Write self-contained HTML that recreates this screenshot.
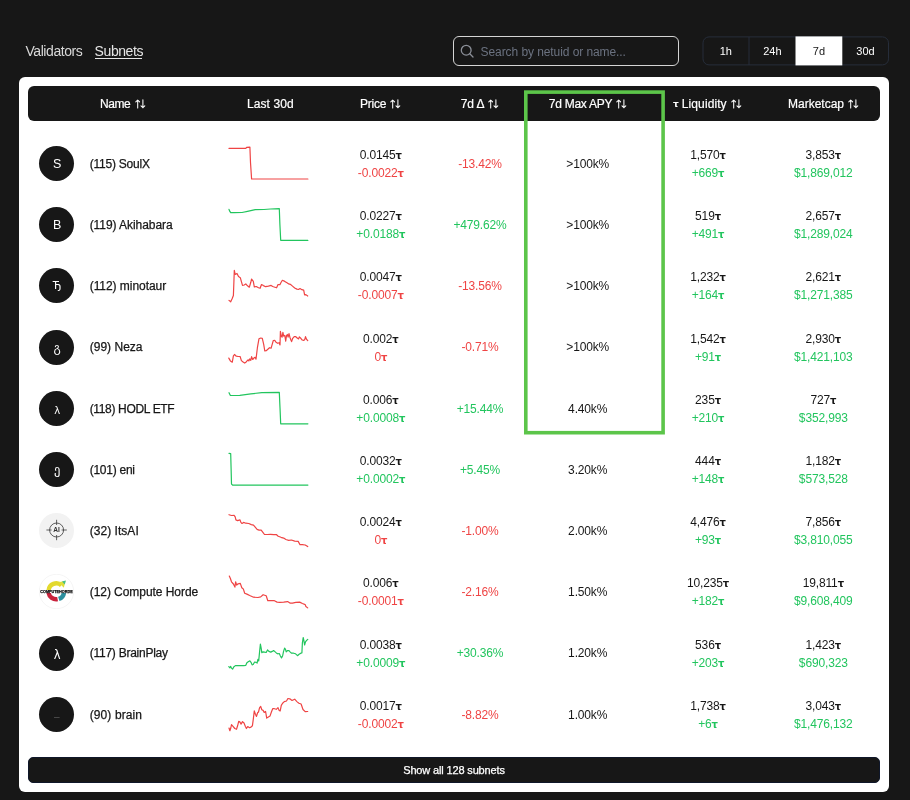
<!DOCTYPE html><html lang="en"><head><meta charset="utf-8"><title>Subnets</title><style>

html,body{margin:0;padding:0}
body{width:910px;height:800px;background:#171717;position:relative;overflow:hidden;font-family:"Liberation Sans","DejaVu Sans",sans-serif;color:#171717}
.a{position:absolute;white-space:nowrap}
.c{position:absolute;white-space:nowrap;text-align:center;width:160px;font-size:12px;line-height:16px;letter-spacing:-0.15px}
.nav{font-size:14px;line-height:18px;color:#e5e5e5;letter-spacing:-0.42px}
.card{left:19px;top:77px;width:870px;height:715px;background:#fff;border-radius:6px}
.hdr{left:28px;top:86px;width:852px;height:35px;background:#171717;border-radius:6px}
.h{position:absolute;white-space:nowrap;font-size:12px;line-height:16px;color:#fff;top:95.5px;-webkit-text-stroke:0.2px #fff}
.si{position:absolute}
.av{position:absolute;width:35px;height:35px;border-radius:50%;background:#171717;color:#fff;font-size:12px;line-height:35px;text-align:center;left:39px}
.nm{position:absolute;white-space:nowrap;left:89.7px;font-size:12px;line-height:16px;-webkit-text-stroke:0.25px #171717}
.r{color:#ef4444}.g{color:#22c55e}
.t{font-family:"DejaVu Sans","Liberation Sans",sans-serif;font-weight:bold;font-size:10px}
.more{left:28px;top:757px;width:850px;height:24px;background:#171717;border:1px solid #0f172a;border-radius:5px;color:#fff;font-size:11px;line-height:24px;text-align:center;letter-spacing:-0.15px;-webkit-text-stroke:0.25px #fff}
.search{left:453px;top:36px;width:224px;height:28px;border:1px solid #d4d4d4;border-radius:6px}
.ph{left:480.6px;top:43.5px;font-size:12px;line-height:16px;color:#6b7280;letter-spacing:-0.08px}
.tabs{left:703px;top:36px;width:184px;height:28px;border:1px solid #2a3342;border-radius:6px;overflow:hidden}
.tab{position:absolute;height:28px;width:46.5px;text-align:center;font-size:11px;line-height:28px;color:#fff}

</style></head><body>
<div class="a nav" style="left:25.4px;top:41.5px;color:#d9d9d9">Validators</div>
<div class="a nav" style="left:94.6px;top:41.5px">Subnets</div>
<div class="a" style="left:94.6px;top:58px;width:47.6px;height:1px;background:#e5e5e5"></div>
<div class="a search"></div>
<svg class="si" style="left:459px;top:43px" width="16" height="16" viewBox="0 0 16 16"><circle cx="7.2" cy="7.2" r="4.9" fill="none" stroke="#8b8f98" stroke-width="1.3"/><path d="M10.8 10.8L14 14" stroke="#8b8f98" stroke-width="1.3" stroke-linecap="round"/></svg>
<div class="a ph">Search by netuid or name...</div>
<svg class="si" style="left:0;top:0" width="910" height="100" viewBox="0 0 910 100"><rect x="703" y="36.9" width="185.5" height="28" rx="6" fill="none" stroke="#262d3a" stroke-width="1"/><path d="M749 37V65" stroke="#262d3a" stroke-width="1"/><rect x="795.5" y="36.4" width="46.8" height="29" fill="#fff"/></svg>
<div class="tab" style="left:702.5px;top:37px;">1h</div>
<div class="tab" style="left:749.1px;top:37px;">24h</div>
<div class="tab" style="left:795.7px;top:37px;color:#171717;">7d</div>
<div class="tab" style="left:842.3px;top:37px;">30d</div>
<div class="a card"></div><div class="a hdr"></div>
<div class="h" style="left:100px;letter-spacing:-0.48px">Name</div>
<svg class="si" style="left:134.5px;top:99px" width="11" height="10" viewBox="0 0 11 10"><path d="M2.7 8.9V1M0.8 2.9L2.7 1L4.6 2.9M7.9 0.8V8.7M6 6.8L7.9 8.7L9.8 6.8" fill="none" stroke="#fff" stroke-width="1.05" stroke-linecap="round" stroke-linejoin="round"/></svg>
<div class="h" style="left:247px;letter-spacing:0.08px">Last 30d</div>
<div class="h" style="left:360px;letter-spacing:-0.22px">Price</div>
<svg class="si" style="left:390.4px;top:99px" width="11" height="10" viewBox="0 0 11 10"><path d="M2.7 8.9V1M0.8 2.9L2.7 1L4.6 2.9M7.9 0.8V8.7M6 6.8L7.9 8.7L9.8 6.8" fill="none" stroke="#fff" stroke-width="1.05" stroke-linecap="round" stroke-linejoin="round"/></svg>
<div class="h" style="left:460.8px;letter-spacing:-0.3px">7d Δ</div>
<svg class="si" style="left:488px;top:99px" width="11" height="10" viewBox="0 0 11 10"><path d="M2.7 8.9V1M0.8 2.9L2.7 1L4.6 2.9M7.9 0.8V8.7M6 6.8L7.9 8.7L9.8 6.8" fill="none" stroke="#fff" stroke-width="1.05" stroke-linecap="round" stroke-linejoin="round"/></svg>
<div class="h" style="left:548.8px;letter-spacing:-0.27px">7d Max APY</div>
<svg class="si" style="left:616.4px;top:99px" width="11" height="10" viewBox="0 0 11 10"><path d="M2.7 8.9V1M0.8 2.9L2.7 1L4.6 2.9M7.9 0.8V8.7M6 6.8L7.9 8.7L9.8 6.8" fill="none" stroke="#fff" stroke-width="1.05" stroke-linecap="round" stroke-linejoin="round"/></svg>
<div class="h" style="left:681.8px;letter-spacing:0.1px"><span class="t" style="font-size:9px;position:absolute;left:-8.8px;top:0.5px;-webkit-text-stroke:0">τ</span>Liquidity</div>
<svg class="si" style="left:731.3px;top:99px" width="11" height="10" viewBox="0 0 11 10"><path d="M2.7 8.9V1M0.8 2.9L2.7 1L4.6 2.9M7.9 0.8V8.7M6 6.8L7.9 8.7L9.8 6.8" fill="none" stroke="#fff" stroke-width="1.05" stroke-linecap="round" stroke-linejoin="round"/></svg>
<div class="h" style="left:788px;letter-spacing:0px">Marketcap</div>
<svg class="si" style="left:847.6px;top:99px" width="11" height="10" viewBox="0 0 11 10"><path d="M2.7 8.9V1M0.8 2.9L2.7 1L4.6 2.9M7.9 0.8V8.7M6 6.8L7.9 8.7L9.8 6.8" fill="none" stroke="#fff" stroke-width="1.05" stroke-linecap="round" stroke-linejoin="round"/></svg>
<div class="av" style="top:145.90px"></div><div class="av" style="background:none;left:39.6px;top:146.90px;font-size:12.5px;">S</div>
<div class="nm" style="top:155.80px;letter-spacing:-0.22px">(115) SoulX</div>
<svg class="si" style="left:0;top:0" width="910" height="800" viewBox="0 0 910 800"><polyline points="229.0,148.4 245.8,148.4 246.6,147.3 249.9,147.1 250.5,162.5 251.6,179.0 307.9,179.0" fill="none" stroke="#ef4444" stroke-width="1.2" stroke-linejoin="round" stroke-linecap="round"/></svg>
<div class="c" style="left:300.8px;top:146.90px">0.0145<span class="t">τ</span></div>
<div class="c r" style="left:300.8px;top:164.90px">-0.0022<span class="t">τ</span></div>
<div class="c r" style="left:400px;top:155.80px">-13.42%</div>
<div class="c" style="left:507.70000000000005px;top:155.80px">>100k%</div>
<div class="c" style="left:628px;top:146.90px">1,570<span class="t">τ</span></div>
<div class="c g" style="left:628px;top:164.90px">+669<span class="t">τ</span></div>
<div class="c" style="left:743.3px;top:146.90px">3,853<span class="t">τ</span></div>
<div class="c g" style="left:743.3px;top:164.90px">$1,869,012</div>
<div class="av" style="top:207.10px"></div><div class="av" style="background:none;left:39.6px;top:208.10px;font-size:12.5px;">B</div>
<div class="nm" style="top:217.00px;letter-spacing:-0.06px">(119) Akihabara</div>
<svg class="si" style="left:0;top:0" width="910" height="800" viewBox="0 0 910 800"><polyline points="229.0,209.4 229.7,211.2 230.7,212.7 234.3,212.7 242.0,212.5 247.5,211.4 255.2,209.7 264.0,209.5 270.5,209.0 279.3,208.6 279.9,224.6 280.7,240.3 307.9,240.3" fill="none" stroke="#22c55e" stroke-width="1.2" stroke-linejoin="round" stroke-linecap="round"/></svg>
<div class="c" style="left:300.8px;top:208.10px">0.0227<span class="t">τ</span></div>
<div class="c g" style="left:300.8px;top:226.10px">+0.0188<span class="t">τ</span></div>
<div class="c g" style="left:400px;top:217.00px">+479.62%</div>
<div class="c" style="left:507.70000000000005px;top:217.00px">>100k%</div>
<div class="c" style="left:628px;top:208.10px">519<span class="t">τ</span></div>
<div class="c g" style="left:628px;top:226.10px">+491<span class="t">τ</span></div>
<div class="c" style="left:743.3px;top:208.10px">2,657<span class="t">τ</span></div>
<div class="c g" style="left:743.3px;top:226.10px">$1,289,024</div>
<div class="av" style="top:268.30px"></div><div class="av" style="background:none;left:39.6px;top:268.30px;font-family:&quot;DejaVu Sans&quot;,sans-serif;font-size:11px;">Ђ</div>
<div class="nm" style="top:278.20px;letter-spacing:-0.05px">(112) minotaur</div>
<svg class="si" style="left:0;top:0" width="910" height="800" viewBox="0 0 910 800"><polyline points="229.0,300.4 230.7,301.8 232.1,298.8 233.4,295.5 234.0,279.0 234.3,270.4 235.2,274.4 237.0,273.5 238.5,276.6 240.3,277.7 241.4,281.7 242.5,285.4 244.2,285.0 245.8,283.9 247.5,285.8 249.3,287.2 250.8,282.3 251.6,279.0 253.3,281.4 254.3,286.9 256.3,286.5 258.5,287.8 260.1,288.3 261.5,284.5 263.4,285.6 265.6,286.7 268.4,286.1 271.1,285.4 272.7,286.5 274.9,287.2 276.6,287.8 278.0,284.5 279.9,284.7 281.0,282.5 282.4,280.3 284.8,281.4 287.0,282.8 288.7,283.9 290.3,284.3 292.5,286.1 294.7,288.0 296.9,289.1 298.6,289.4 300.0,288.6 301.9,289.7 303.7,290.2 304.6,294.9 305.9,294.6 307.7,296.0" fill="none" stroke="#ef4444" stroke-width="1.2" stroke-linejoin="round" stroke-linecap="round"/></svg>
<div class="c" style="left:300.8px;top:269.30px">0.0047<span class="t">τ</span></div>
<div class="c r" style="left:300.8px;top:287.30px">-0.0007<span class="t">τ</span></div>
<div class="c r" style="left:400px;top:278.20px">-13.56%</div>
<div class="c" style="left:507.70000000000005px;top:278.20px">>100k%</div>
<div class="c" style="left:628px;top:269.30px">1,232<span class="t">τ</span></div>
<div class="c g" style="left:628px;top:287.30px">+164<span class="t">τ</span></div>
<div class="c" style="left:743.3px;top:269.30px">2,621<span class="t">τ</span></div>
<div class="c g" style="left:743.3px;top:287.30px">$1,271,385</div>
<div class="av" style="top:329.50px"></div><div class="av" style="background:none;left:39.6px;top:329.80px;font-family:&quot;DejaVu Sans&quot;,sans-serif;font-size:12.5px;">გ</div>
<div class="nm" style="top:339.40px;letter-spacing:0.02px">(99) Neza</div>
<svg class="si" style="left:0;top:0" width="910" height="800" viewBox="0 0 910 800"><polyline points="228.8,358.1 230.4,360.9 232.3,362.2 233.4,355.9 234.5,354.5 236.3,356.2 238.1,356.5 240.1,356.5 241.4,360.6 243.1,362.0 244.7,363.1 246.4,361.7 248.0,359.8 248.8,360.9 249.7,358.9 250.8,360.3 251.6,356.7 252.7,359.5 254.1,357.8 255.2,357.3 256.0,359.2 257.4,347.7 259.0,338.7 260.7,338.0 262.3,338.3 263.7,344.4 264.8,351.0 266.2,350.7 267.8,349.3 269.5,347.7 271.1,348.2 272.2,344.4 273.3,340.5 274.7,340.3 276.0,342.2 277.7,343.3 279.1,342.7 280.0,344.9 280.4,331.4 281.3,336.1 282.1,337.2 282.9,332.3 283.7,336.1 284.8,335.4 285.7,341.1 286.5,335.6 287.3,334.5 288.1,337.2 289.0,333.6 289.9,337.2 290.9,340.0 291.6,341.6 292.7,338.3 294.2,336.7 295.8,336.7 297.5,338.3 298.6,338.9 299.3,336.9 300.8,338.3 302.2,340.0 303.7,340.5 304.8,339.4 305.5,336.7 306.6,339.4 307.7,340.5" fill="none" stroke="#ef4444" stroke-width="1.2" stroke-linejoin="round" stroke-linecap="round"/></svg>
<div class="c" style="left:300.8px;top:330.50px">0.002<span class="t">τ</span></div>
<div class="c r" style="left:300.8px;top:348.50px">0<span class="t">τ</span></div>
<div class="c r" style="left:400px;top:339.40px">-0.71%</div>
<div class="c" style="left:507.70000000000005px;top:339.40px">>100k%</div>
<div class="c" style="left:628px;top:330.50px">1,542<span class="t">τ</span></div>
<div class="c g" style="left:628px;top:348.50px">+91<span class="t">τ</span></div>
<div class="c" style="left:743.3px;top:330.50px">2,930<span class="t">τ</span></div>
<div class="c g" style="left:743.3px;top:348.50px">$1,421,103</div>
<div class="av" style="top:390.70px"></div><div class="av" style="background:none;left:39.6px;top:392.80px;font-family:&quot;DejaVu Sans&quot;,sans-serif;font-size:10px;">λ</div>
<div class="nm" style="top:400.60px;letter-spacing:-0.34px">(118) HODL ETF</div>
<svg class="si" style="left:0;top:0" width="910" height="800" viewBox="0 0 910 800"><polyline points="229.0,392.7 230.4,395.5 239.8,395.3 250.8,393.8 261.8,392.7 279.3,392.4 280.0,407.6 280.7,423.8 307.9,423.8" fill="none" stroke="#22c55e" stroke-width="1.2" stroke-linejoin="round" stroke-linecap="round"/></svg>
<div class="c" style="left:300.8px;top:391.70px">0.006<span class="t">τ</span></div>
<div class="c g" style="left:300.8px;top:409.70px">+0.0008<span class="t">τ</span></div>
<div class="c g" style="left:400px;top:400.60px">+15.44%</div>
<div class="c" style="left:507.70000000000005px;top:400.60px">4.40k%</div>
<div class="c" style="left:628px;top:391.70px">235<span class="t">τ</span></div>
<div class="c g" style="left:628px;top:409.70px">+210<span class="t">τ</span></div>
<div class="c" style="left:743.3px;top:391.70px">727<span class="t">τ</span></div>
<div class="c g" style="left:743.3px;top:409.70px">$352,993</div>
<div class="av" style="top:451.90px"></div><div class="av" style="background:none;left:39.6px;top:452.20px;font-family:&quot;DejaVu Sans&quot;,sans-serif;font-size:12.5px;">ე</div>
<div class="nm" style="top:461.80px;letter-spacing:-0.26px">(101) eni</div>
<svg class="si" style="left:0;top:0" width="910" height="800" viewBox="0 0 910 800"><polyline points="229.0,453.4 230.7,453.7 231.1,468.6 231.5,484.0 232.6,485.1 307.9,485.1" fill="none" stroke="#22c55e" stroke-width="1.2" stroke-linejoin="round" stroke-linecap="round"/></svg>
<div class="c" style="left:300.8px;top:452.90px">0.0032<span class="t">τ</span></div>
<div class="c g" style="left:300.8px;top:470.90px">+0.0002<span class="t">τ</span></div>
<div class="c g" style="left:400px;top:461.80px">+5.45%</div>
<div class="c" style="left:507.70000000000005px;top:461.80px">3.20k%</div>
<div class="c" style="left:628px;top:452.90px">444<span class="t">τ</span></div>
<div class="c g" style="left:628px;top:470.90px">+148<span class="t">τ</span></div>
<div class="c" style="left:743.3px;top:452.90px">1,182<span class="t">τ</span></div>
<div class="c g" style="left:743.3px;top:470.90px">$573,528</div>
<svg class="si" style="left:39px;top:513.10px" width="35" height="35" viewBox="0 0 35 35"><circle cx="17.5" cy="17.5" r="17.5" fill="#f2f2f2"/><circle cx="17.6" cy="17" r="7" fill="none" stroke="#3a3a3a" stroke-width="0.8"/><path d="M17.6 6.8v5.2M17.6 22v5.2M7.4 17h5.2M22.6 17h5.2" stroke="#3a3a3a" stroke-width="0.8"/><text x="17.6" y="19.4" font-family="Liberation Sans,sans-serif" font-size="6.6" font-weight="bold" fill="#333" text-anchor="middle">AI</text></svg>
<div class="nm" style="top:523.00px;letter-spacing:0.04px">(32) ItsAI</div>
<svg class="si" style="left:0;top:0" width="910" height="800" viewBox="0 0 910 800"><polyline points="229.0,514.7 231.5,515.5 234.1,515.3 235.2,516.9 235.9,519.9 237.6,520.6 240.0,519.9 240.9,522.4 242.0,523.5 243.6,522.4 245.8,523.2 248.8,523.5 251.3,524.6 253.5,525.2 255.2,527.2 257.1,529.4 259.0,530.1 261.2,530.1 262.9,532.3 264.5,534.5 267.3,534.5 270.5,534.3 273.8,534.7 276.3,534.5 278.2,536.2 281.0,537.3 283.7,538.1 285.9,539.5 288.7,540.3 291.4,540.0 294.7,541.1 298.2,541.4 300.0,544.7 302.4,544.7 305.2,545.0 307.7,546.6" fill="none" stroke="#ef4444" stroke-width="1.2" stroke-linejoin="round" stroke-linecap="round"/></svg>
<div class="c" style="left:300.8px;top:514.10px">0.0024<span class="t">τ</span></div>
<div class="c r" style="left:300.8px;top:532.10px">0<span class="t">τ</span></div>
<div class="c r" style="left:400px;top:523.00px">-1.00%</div>
<div class="c" style="left:507.70000000000005px;top:523.00px">2.00k%</div>
<div class="c" style="left:628px;top:514.10px">4,476<span class="t">τ</span></div>
<div class="c g" style="left:628px;top:532.10px">+93<span class="t">τ</span></div>
<div class="c" style="left:743.3px;top:514.10px">7,856<span class="t">τ</span></div>
<div class="c g" style="left:743.3px;top:532.10px">$3,810,055</div>
<svg class="si" style="left:39px;top:574.30px" width="35" height="35" viewBox="0 0 35 35"><circle cx="17.5" cy="17.5" r="17.2" fill="#fff" stroke="#efefef" stroke-width="0.6"/><path d="M9.6 16.4A7.7 7.7 0 0 1 22.4 11.3" fill="none" stroke="#e3d92e" stroke-width="4.4"/><path d="M19.6 8.2L26.6 6.8L24.8 13.8Z" fill="#dfe03a"/><path d="M23 7.6L26.8 6.6L25.8 10.4Z" fill="#45c08a"/><path d="M9.6 18.8A7.7 7.7 0 0 0 18.6 25.1" fill="none" stroke="#c9223c" stroke-width="4.4"/><path d="M19.8 24.9A7.7 7.7 0 0 0 25 18.8" fill="none" stroke="#2c8f9e" stroke-width="4.4"/><rect x="0.8" y="16.2" width="33.4" height="2.7" fill="#fff"/><text x="17.5" y="18.9" font-family="Liberation Sans,sans-serif" font-size="4.2" font-weight="bold" fill="#0a0a0a" stroke="#0a0a0a" stroke-width="0.25" text-anchor="middle" textLength="32.5" lengthAdjust="spacingAndGlyphs">COMPUTEHORDE</text></svg>
<div class="nm" style="top:584.20px;letter-spacing:-0.05px">(12) Compute Horde</div>
<svg class="si" style="left:0;top:0" width="910" height="800" viewBox="0 0 910 800"><polyline points="229.3,576.1 230.4,578.5 231.5,581.8 233.4,584.0 234.9,587.1 235.6,581.8 236.7,585.1 238.1,583.8 240.3,583.4 241.8,587.8 243.3,588.9 244.7,593.3 246.9,594.1 249.7,595.5 253.5,597.2 257.9,597.5 260.7,596.9 263.1,594.7 266.2,595.8 267.8,600.7 271.1,600.5 274.4,600.7 277.1,602.1 279.9,602.4 283.7,602.1 287.6,601.6 290.3,603.2 292.5,603.2 295.8,602.4 299.7,602.1 302.4,603.5 305.2,604.6 305.9,606.5 307.7,607.9" fill="none" stroke="#ef4444" stroke-width="1.2" stroke-linejoin="round" stroke-linecap="round"/></svg>
<div class="c" style="left:300.8px;top:575.30px">0.006<span class="t">τ</span></div>
<div class="c r" style="left:300.8px;top:593.30px">-0.0001<span class="t">τ</span></div>
<div class="c r" style="left:400px;top:584.20px">-2.16%</div>
<div class="c" style="left:507.70000000000005px;top:584.20px">1.50k%</div>
<div class="c" style="left:628px;top:575.30px">10,235<span class="t">τ</span></div>
<div class="c g" style="left:628px;top:593.30px">+182<span class="t">τ</span></div>
<div class="c" style="left:743.3px;top:575.30px">19,811<span class="t">τ</span></div>
<div class="c g" style="left:743.3px;top:593.30px">$9,608,409</div>
<div class="av" style="top:635.50px"></div><div class="av" style="background:none;left:39.6px;top:638.30px;font-family:&quot;DejaVu Sans&quot;,sans-serif;font-size:11.5px;">λ</div>
<div class="nm" style="top:645.40px;letter-spacing:-0.25px">(117) BrainPlay</div>
<svg class="si" style="left:0;top:0" width="910" height="800" viewBox="0 0 910 800"><polyline points="228.8,666.7 229.9,667.8 230.7,666.4 231.5,668.1 232.6,669.2 233.7,667.0 235.4,665.6 239.8,665.5 243.6,665.6 245.8,665.3 246.9,662.8 248.6,661.5 249.9,660.9 251.0,662.3 252.1,664.8 253.2,664.5 254.6,662.0 256.0,662.3 257.1,663.1 257.9,659.3 258.7,660.9 259.6,651.6 260.4,644.1 261.2,648.3 261.8,652.7 263.1,651.8 264.5,652.1 266.2,652.5 267.5,649.9 268.9,651.4 270.8,652.1 272.2,651.4 273.6,650.5 274.9,651.6 276.3,652.9 277.7,653.8 279.3,653.5 280.4,656.0 281.5,657.9 282.6,656.0 283.5,651.6 284.6,648.1 285.5,649.4 286.2,651.8 287.6,650.5 289.0,650.7 290.3,652.1 291.6,653.2 293.6,653.2 295.6,653.8 297.5,655.7 299.1,654.3 300.8,653.2 301.9,652.9 302.4,642.8 303.2,637.5 304.0,641.1 304.6,645.0 305.5,641.9 306.6,640.4 307.7,639.5" fill="none" stroke="#22c55e" stroke-width="1.2" stroke-linejoin="round" stroke-linecap="round"/></svg>
<div class="c" style="left:300.8px;top:636.50px">0.0038<span class="t">τ</span></div>
<div class="c g" style="left:300.8px;top:654.50px">+0.0009<span class="t">τ</span></div>
<div class="c g" style="left:400px;top:645.40px">+30.36%</div>
<div class="c" style="left:507.70000000000005px;top:645.40px">1.20k%</div>
<div class="c" style="left:628px;top:636.50px">536<span class="t">τ</span></div>
<div class="c g" style="left:628px;top:654.50px">+203<span class="t">τ</span></div>
<div class="c" style="left:743.3px;top:636.50px">1,423<span class="t">τ</span></div>
<div class="c g" style="left:743.3px;top:654.50px">$690,323</div>
<div class="av" style="top:696.70px"></div><div class="av" style="background:none;left:39.3px;top:699.40px;color:#585858;font-size:10px">–</div>
<div class="nm" style="top:706.60px;letter-spacing:0.11px">(90) brain</div>
<svg class="si" style="left:0;top:0" width="910" height="800" viewBox="0 0 910 800"><polyline points="229.0,728.0 229.9,730.7 230.8,728.0 231.5,724.7 233.0,726.3 234.8,728.5 236.5,729.3 237.6,725.8 238.7,721.4 239.8,721.9 241.1,724.1 242.5,721.6 244.0,723.0 245.3,726.3 246.4,728.5 247.7,726.6 249.5,727.7 251.0,727.1 252.4,725.8 253.3,719.2 254.3,710.9 255.4,714.2 256.5,716.4 257.6,712.8 258.5,712.0 259.6,707.6 260.7,706.5 261.8,709.8 263.1,710.4 264.2,712.4 265.6,711.5 266.7,718.1 268.4,717.0 270.0,716.1 271.4,712.0 272.7,708.7 274.4,708.7 276.3,709.3 278.0,707.6 279.1,710.4 280.2,710.9 281.3,705.4 282.6,703.2 284.3,701.6 286.5,701.0 287.9,698.5 289.8,698.8 292.0,700.5 294.7,699.2 296.9,701.6 298.9,703.2 301.1,704.0 303.0,709.5 305.2,711.7 307.7,711.5" fill="none" stroke="#ef4444" stroke-width="1.2" stroke-linejoin="round" stroke-linecap="round"/></svg>
<div class="c" style="left:300.8px;top:697.70px">0.0017<span class="t">τ</span></div>
<div class="c r" style="left:300.8px;top:715.70px">-0.0002<span class="t">τ</span></div>
<div class="c r" style="left:400px;top:706.60px">-8.82%</div>
<div class="c" style="left:507.70000000000005px;top:706.60px">1.00k%</div>
<div class="c" style="left:628px;top:697.70px">1,738<span class="t">τ</span></div>
<div class="c g" style="left:628px;top:715.70px">+6<span class="t">τ</span></div>
<div class="c" style="left:743.3px;top:697.70px">3,043<span class="t">τ</span></div>
<div class="c g" style="left:743.3px;top:715.70px">$1,476,132</div>
<svg class="si" style="left:0;top:0" width="910" height="800" viewBox="0 0 910 800"><rect x="525.8" y="92.1" width="137.3" height="340.6" fill="none" stroke="#5cc54a" stroke-width="3.6"/></svg>
<div class="a more">Show all 128 subnets</div>
</body></html>
